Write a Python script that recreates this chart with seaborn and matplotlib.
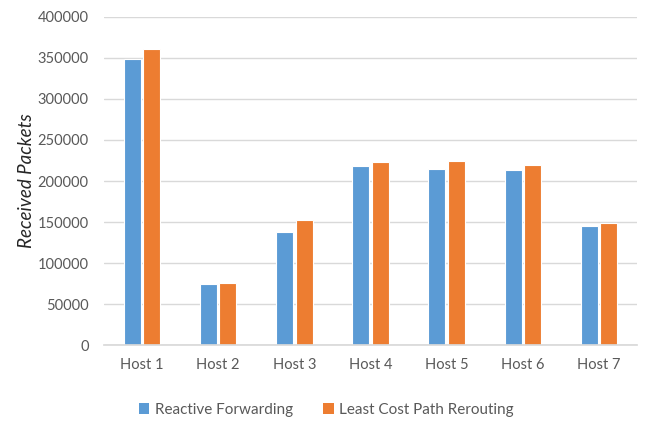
import matplotlib
matplotlib.use("Agg")
import matplotlib.pyplot as plt
from matplotlib.patches import Patch
import seaborn as sns
import pandas as pd

hosts = ["Host 1", "Host 2", "Host 3", "Host 4", "Host 5", "Host 6", "Host 7"]
reactive_forwarding = [349000, 74000, 138000, 218000, 215000, 214000, 145000]
least_cost_rerouting = [361000, 76000, 153000, 223000, 224000, 219000, 149000]
series_names = ["Reactive Forwarding", "Least Cost Path Rerouting"]
y_ticks = [0, 50000, 100000, 150000, 200000, 250000, 300000, 350000, 400000]

df = pd.DataFrame({
    "Host": hosts * 2,
    "Packets": reactive_forwarding + least_cost_rerouting,
    "Method": [series_names[0]] * len(hosts) + [series_names[1]] * len(hosts),
})

sns.set_theme(style="white")
plt.rcParams["font.family"] = ["Lato", "DejaVu Sans"]

text_color = "#595959"
colors = ["#5B9BD5", "#ED7D31"]

fig = plt.figure(figsize=(6.46, 4.21), dpi=100)
ax = fig.add_axes([0.161, 0.18, 0.825, 0.78])

sns.barplot(data=df, x="Host", y="Packets", hue="Method", palette=colors,
            width=0.51, gap=0.12, edgecolor="white", linewidth=0.8,
            saturation=1, ax=ax, legend=False)

ax.set_ylim(0, 400000)
ax.set_yticks(y_ticks)
ax.set_yticklabels([str(v) for v in y_ticks])
ax.yaxis.grid(True, color="#D9D9D9", linewidth=1.0)
ax.set_axisbelow(True)
for s in ["top", "right", "left"]:
    ax.spines[s].set_visible(False)
ax.spines["bottom"].set_color("#D9D9D9")
ax.tick_params(axis="both", length=0, labelsize=10.5, labelcolor=text_color)
ax.tick_params(axis="x", pad=9)
ax.tick_params(axis="y", pad=11)
ax.set_xlabel("")
ax.set_ylabel("Received Packets", fontsize=13.5, style="italic", color="#262626", labelpad=2)

handles = [Patch(facecolor=c, edgecolor="none") for c in colors]
fig.legend(handles, series_names, loc="lower center", bbox_to_anchor=(0.505, -0.022),
           ncol=2, frameon=False, fontsize=11, labelcolor=text_color,
           handlelength=0.7, handleheight=0.7, handletextpad=0.35, columnspacing=2.0)

fig.savefig("out.png", dpi=100)
